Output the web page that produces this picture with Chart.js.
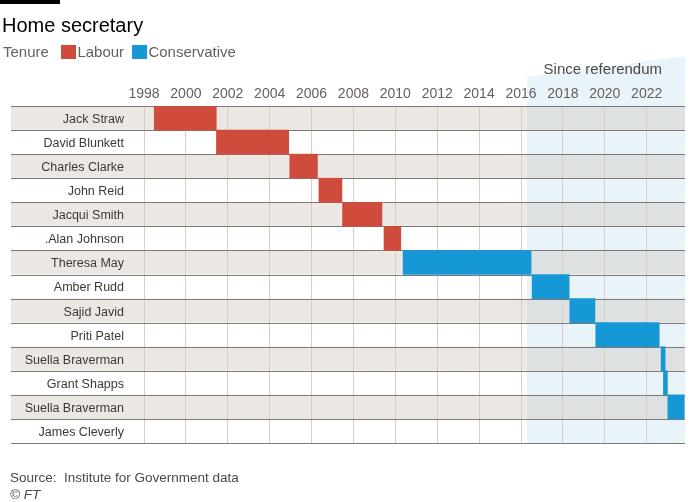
<!DOCTYPE html>
<html>
<head>
<meta charset="utf-8">
<script src="https://cdn.jsdelivr.net/npm/chart.js@4"></script>
<style>
  body { margin: 0; background: #fff; font-family: "Liberation Sans", Arial, sans-serif; }
  #wrap { position: relative; width: 700px; height: 502px; overflow: hidden; }
  #chart { position: absolute; left: 0; top: 0; }
  .abs { position: absolute; white-space: nowrap; }
  #bar { left: 0; top: 0; width: 60px; height: 4px; background: #000; }
  #title { left: 2px; top: 14px; font-size: 20px; color: #000; }
  #legend { left: 3px; top: 43px; font-size: 15px; color: #66605c; }
  .sw { display: inline-block; width: 15px; height: 14px; vertical-align: -2px; margin: 0 1px 0 0; }
  #since { right: 38px; top: 60px; font-size: 15px; color: #4d4845; }
  #source { left: 10px; top: 470px; font-size: 13.5px; color: #4d4845; }
  #ft { left: 10px; top: 487px; font-size: 13.5px; color: #4d4845; font-style: italic; }
</style>
</head>
<body>
<div id="wrap">
  <canvas id="chart" width="700" height="502"></canvas>
  <div class="abs" id="bar"></div>
  <div class="abs" id="title">Home secretary</div>
  <div class="abs" id="legend">Tenure&nbsp;&nbsp;&nbsp;<span class="sw" style="background:#cf4b3c"></span>Labour&nbsp;&nbsp;<span class="sw" style="background:#1697d6"></span>Conservative</div>
  <div class="abs" id="since">Since referendum</div>
  <div class="abs" id="source">Source:&nbsp; Institute for Government data</div>
  <div class="abs" id="ft">© FT</div>
</div>
<script>
// Data (fractional years)
const names = ['Jack Straw', 'David Blunkett', 'Charles Clarke', 'John Reid', 'Jacqui Smith', '.Alan Johnson',
    'Theresa May', 'Amber Rudd', 'Sajid Javid', 'Priti Patel', 'Suella Braverman', 'Grant Shapps',
    'Suella Braverman', 'James Cleverly'];
const starts = [1998.49, 2001.46, 2004.96, 2006.35, 2007.48, 2009.46, 2010.37, 2016.53, 2018.33, 2019.57, 2022.69, 2022.8, 2023.01, null];
const ends = [2001.45, 2004.91, 2006.28, 2007.45, 2009.36, 2010.26, 2016.48, 2018.3, 2019.53, 2022.6, 2022.88, 2022.99, 2023.79, null];
const parties = ['Labour', 'Labour', 'Labour', 'Labour', 'Labour', 'Labour',
    'Conservative', 'Conservative', 'Conservative', 'Conservative', 'Conservative', 'Conservative',
    'Conservative', 'Conservative'];
const yearTicks = [1998, 2000, 2002, 2004, 2006, 2008, 2010, 2012, 2014, 2016, 2018, 2020, 2022];
const axisMin = 1998;
const axisMax = 2023.83;
const referendum = 2016.29;

const PARTY_COLORS = { 'Labour': '#cf4b3c', 'Conservative': '#1697d6' };

// row bands, referendum shading and separators
const rowsPlugin = {
    id: 'rows',
    beforeDraw(chart) {
        const { ctx, chartArea, scales: { x, y } } = chart;
        const half = (y.getPixelForValue(1) - y.getPixelForValue(0)) / 2;
        const left = 11;
        const drawRows = (gray, white) => {
            names.forEach((n, i) => {
                const c = y.getPixelForValue(i);
                ctx.fillStyle = i % 2 === 0 ? gray : white;
                ctx.fillRect(left, c - half, chartArea.right - left, half * 2);
            });
        };
        ctx.save();
        drawRows('#ebe7e3', '#ffffff');
        // shaded "since referendum" area with slanted top
        const x0 = x.getPixelForValue(referendum);
        ctx.beginPath();
        ctx.moveTo(x0, 77);
        ctx.lineTo(chartArea.right, 56);
        ctx.lineTo(chartArea.right, chartArea.bottom);
        ctx.lineTo(x0, chartArea.bottom);
        ctx.closePath();
        ctx.clip();
        ctx.fillStyle = '#e8f4fa';
        ctx.fillRect(x0, 50, chartArea.right - x0, chartArea.top - 50);
        drawRows('#dee1e1', '#e8f4fa');
        ctx.restore();
    },
    beforeDatasetsDraw(chart) {
        const { ctx, chartArea, scales: { y } } = chart;
        const half = (y.getPixelForValue(1) - y.getPixelForValue(0)) / 2;
        ctx.save();
        ctx.strokeStyle = '#7d7a78';
        ctx.lineWidth = 1.2;
        for (let i = 0; i <= names.length; i++) {
            const yy = Math.round(y.getPixelForValue(0) - half + i * half * 2) + 0.5;
            ctx.beginPath();
            ctx.moveTo(11, yy);
            ctx.lineTo(chartArea.right, yy);
            ctx.stroke();
        }
        ctx.restore();
    }
};

const ctx = document.getElementById('chart').getContext('2d');
new Chart(ctx, {
    type: 'bar',
    data: {
        labels: names,
        datasets: [{
            data: starts.map((s, i) => s === null ? null : [s, ends[i]]),
            backgroundColor: parties.map(p => PARTY_COLORS[p]),
            borderWidth: 0,
            barPercentage: 1,
            categoryPercentage: 1
        }]
    },
    options: {
        indexAxis: 'y',
        responsive: false,
        animation: false,
        layout: { padding: { left: 0, top: 0, right: 15, bottom: 59 } },
        plugins: { legend: { display: false }, tooltip: { enabled: false } },
        scales: {
            x: {
                type: 'linear',
                position: 'top',
                min: axisMin,
                max: axisMax,
                afterBuildTicks: s => { s.ticks = yearTicks.map(v => ({ value: v })); },
                afterFit: s => { s.height = 106; },
                grid: { color: '#d9cec6', lineWidth: 1, drawTicks: false },
                border: { display: false },
                ticks: {
                    color: '#66605c',
                    padding: 3,
                    maxRotation: 0,
                    font: { family: "'Liberation Sans', Arial, sans-serif", size: 14 },
                    callback: v => String(v)
                }
            },
            y: {
                type: 'category',
                afterFit: s => { s.width = 144; },
                grid: { display: false, drawTicks: false },
                border: { display: false },
                ticks: {
                    color: '#3d3936',
                    padding: 20,
                    labelOffset: 1.5,
                    font: { family: "'Liberation Sans', Arial, sans-serif", size: 12.5 }
                }
            }
        }
    },
    plugins: [rowsPlugin]
});
</script>
</body>
</html>
